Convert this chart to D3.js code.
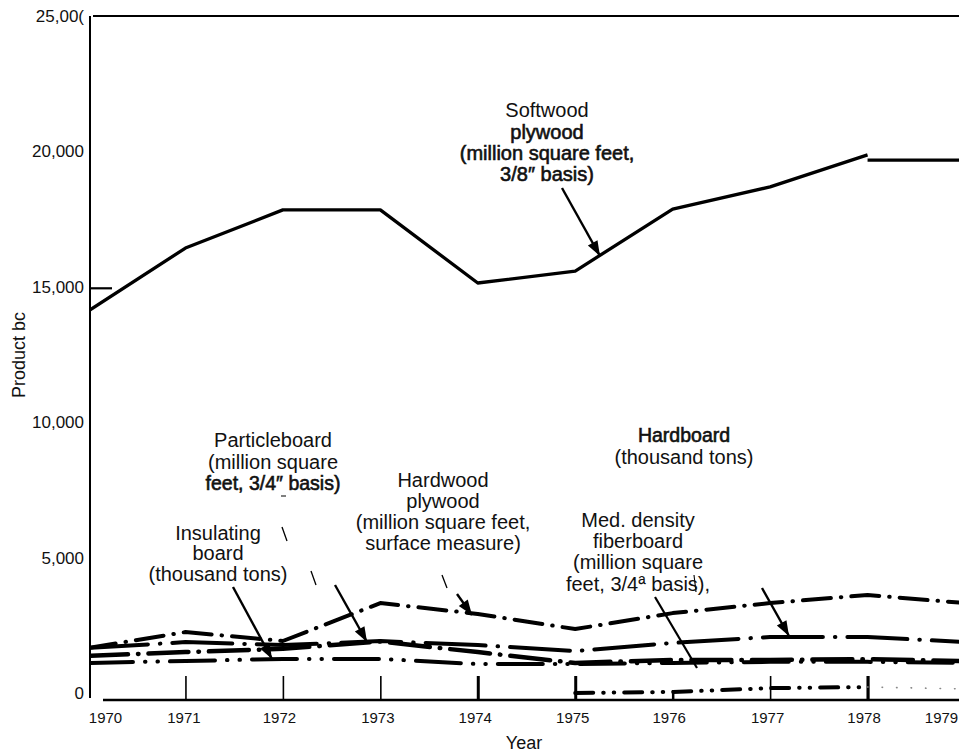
<!DOCTYPE html>
<html><head><meta charset="utf-8">
<script src="https://cdn.jsdelivr.net/npm/d3@7"></script>
<style>
html,body{margin:0;padding:0;background:#fff;}
svg{display:block;font-family:"Liberation Sans",Arial,Helvetica,sans-serif;}
</style></head><body>
<svg id="chart" width="959" height="753"></svg>
<script>
// ---------------- data ----------------
const years = [1970,1971,1972,1973,1974,1975,1976,1977,1978,1979];
const softwoodYears = [1970,1971,1972,1973,1974,1975,1976,1977,1978];
const softwoodPlywood = [14100,16430,17840,17840,15140,15580,17870,18690,19870];
const softwoodTailYears = [1978,1979];
const softwoodTail = [19680,19680];
const hardwoodPlywood = [1660,2250,1920,3320,2920,2360,2950,3320,3620,3320];
const hardboard       = [1660,1880,1770,1920,1770,1550,1850,2070,2070,1880];
const particleboard   = [1370,1510,1630,1900,1510,1110,1220,1220,1250,1180];
const insulatingBoard = [1110,1180,1260,1260,1070,1070,1110,1150,1150,1110];
const mdfYears = [1975,1976,1977,1978,1979];
const mdf      = [0,40,180,220,150];
const xTickYears = [1970,1971,1972,1973,1974,1975,1976,1977,1978,1979];
const yTickValues = [0,5000,10000,15000,20000,25000];
const yTickLabels = ["0","5,000","10,000","15,000","20,000","25,00("];

// ---------------- setup ----------------
const svg = d3.select("#chart");
const x = d3.scaleLinear().domain([1970,1979]).range([88,965]);
const y = d3.scaleLinear().domain([0,25000]).range([693,16]);

svg.append("rect").attr("width",959).attr("height",753).attr("fill","#fff");

svg.append("defs").append("clipPath").attr("id","plot")
  .append("rect").attr("x",91).attr("y",0).attr("width",868).attr("height",753);

// frame
svg.append("line").attr("x1",x(1970)+2).attr("x2",x(1970)+2)
  .attr("y1",y(25000)).attr("y2",698).attr("stroke","#000").attr("stroke-width",2);
svg.append("line").attr("x1",x(1970)+5).attr("x2",959)
  .attr("y1",y(25000)).attr("y2",y(25000)).attr("stroke","#000").attr("stroke-width",2.2);
// stub tick at 15,000
svg.append("line").attr("x1",x(1970)+2).attr("x2",x(1970)+24)
  .attr("y1",y(15000)+1.5).attr("y2",y(15000)+1.5).attr("stroke","#000").attr("stroke-width",2.2);

// y axis labels
const yAxis = d3.axisLeft(y).tickValues(yTickValues).tickSize(0).tickPadding(6)
  .tickFormat((d,i)=>yTickLabels[i]);
const gy = svg.append("g").attr("transform",`translate(${x(1970)+2},0)`).call(yAxis);
gy.select(".domain").remove();
gy.selectAll("text").attr("font-size",17).attr("fill","#111")
  .attr("font-family","'Liberation Sans',Arial,sans-serif");

// x axis
const baseY = y(0)+7;
const xAxis = d3.axisBottom(x).tickValues(xTickYears).tickSize(-24).tickPadding(12)
  .tickFormat(d=>String(d));
const gx = svg.append("g").attr("transform",`translate(0,${baseY})`).call(xAxis);
gx.select(".domain").remove();
gx.selectAll("text").attr("font-size",15).attr("fill","#111")
  .attr("font-family","'Liberation Sans',Arial,sans-serif");
const tickStyle = {1970:{len:0},1974:{w:3},1975:{w:3},1976:{len:-10,w:2.5},1978:{w:3.2},1979:{len:0}};
gx.selectAll(".tick").each(function(d){
  const s = tickStyle[d]||{};
  const ln = d3.select(this).select("line").attr("stroke","#000").attr("stroke-width",s.w||1.6);
  if (s.len!==undefined) ln.attr("y2",s.len);
});
const labelShift = {1970:17,1971:-2,1972:-4,1973:-3,1974:-3,1975:-3,1976:-4,1977:-3,1978:-4,1979:-24};
gx.selectAll(".tick text").attr("dx",d=>labelShift[d]||0);
svg.append("line").attr("x1",103).attr("x2",959).attr("y1",baseY).attr("y2",baseY)
  .attr("stroke","#000").attr("stroke-width",2.4);

// axis titles
svg.append("text").attr("x",524).attr("y",749).attr("text-anchor","middle")
  .attr("font-size",18).attr("fill","#111").text("Year");
svg.append("text").attr("transform","translate(25,355) rotate(-90)").attr("text-anchor","middle")
  .attr("font-size",18).attr("fill","#111").text("Product bc");

// ---------------- series ----------------
const line = d3.line().x(d=>x(d[0])).y(d=>y(d[1]));
const plot = svg.append("g").attr("clip-path","url(#plot)");
function drawSeries(xs, vals, opts){
  plot.append("path").datum(xs.map((t,i)=>[t,vals[i]]))
    .attr("d",line).attr("fill","none").attr("stroke",opts.color||"#000")
    .attr("stroke-width",opts.w).attr("stroke-dasharray",opts.dash||null)
    .attr("stroke-linecap",opts.cap||"round").attr("stroke-linejoin","round");
}
drawSeries(years, insulatingBoard, {w:4, dash:"45,12,0.5,12,0.5,12"});
drawSeries(years, particleboard, {w:4.5, dash:"40,10,0.5,10"});
drawSeries(years, hardboard, {w:4, dash:"60,12,0.5,12"});
drawSeries(years, hardwoodPlywood, {w:4, dash:"28,10,0.5,10"});
drawSeries(mdfYears.slice(0,4), mdf.slice(0,4), {w:4, dash:"18,10,0.5,10,0.5,10"});
drawSeries(mdfYears.slice(3), mdf.slice(3), {w:1.6, dash:"0.5,14", color:"#888"});
drawSeries(softwoodYears, softwoodPlywood, {w:3.3, cap:"butt"});
drawSeries(softwoodTailYears, softwoodTail, {w:3.3, cap:"butt"});

// ---------------- annotations ----------------
const ann = svg.append("g");
function arrow(x1,y1,x2,y2,head,w){
  ann.append("line").attr("x1",x1).attr("y1",y1).attr("x2",x2).attr("y2",y2)
    .attr("stroke","#000").attr("stroke-width",w||2);
  if(head){
    const a=Math.atan2(y2-y1,x2-x1), L=15, H=5.5;
    const bx=x2-L*Math.cos(a), by=y2-L*Math.sin(a);
    const p=[[x2,y2],[bx+H*Math.sin(a),by-H*Math.cos(a)],[bx-H*Math.sin(a),by+H*Math.cos(a)]];
    ann.append("path").attr("d","M"+p.map(q=>q.join(",")).join("L")+"Z").attr("fill","#000");
  }
}
arrow(562,188,600,256,true,2.4);          // softwood
arrow(233,587,272,659,true,2.4);          // insulating board
arrow(282,527,287,541,false,1.3);         // particleboard (faint pieces)
arrow(311,571,316,585,false,1.3);
arrow(281,496,286,496,false,1);
arrow(335,585,367,642,true,2.4);          // particleboard
arrow(442,575,447,588,false,1.3);         // hardwood (faint piece)
arrow(457,594,472,615,true,2.4);          // hardwood plywood
arrow(655,597,697,668,false,2.2);         // med. density fiberboard
arrow(694,575,696,592,false,1.1);
arrow(762,588,789,636,true,2.4);          // hardboard

function block(cx, lines){
  const g = ann.append("g");
  lines.forEach(l=>{
    const t = g.append("text").attr("x",cx).attr("y",l[1]+7).attr("text-anchor","middle")
      .attr("font-size",l[2]||20).attr("fill","#111").text(l[0]);
    if (l[3]) t.attr("stroke","#111").attr("stroke-width",0.6);
  });
}
block(547,[["Softwood",110,20],["plywood",132,20,true],["(million square feet,",153,20,true],["3/8\u2033 basis)",174,20,true]]);
block(273,[["Particleboard",440,20],["(million square",462,20],["feet, 3/4\u2033 basis)",483,19.5,true]]);
block(218,[["Insulating",533,20],["board",553,20],["(thousand tons)",574,20]]);
block(443,[["Hardwood",480,20],["plywood",501,20],["(million square feet,",522,20],["surface measure)",543,20]]);
block(684,[["Hardboard",435,19.5,true],["(thousand tons)",457,20]]);
block(638,[["Med. density",520,20],["fiberboard",541,20],["(million square",562,20],["feet, 3/4\u00AA basis),",584,20]]);
</script>
</body></html>
